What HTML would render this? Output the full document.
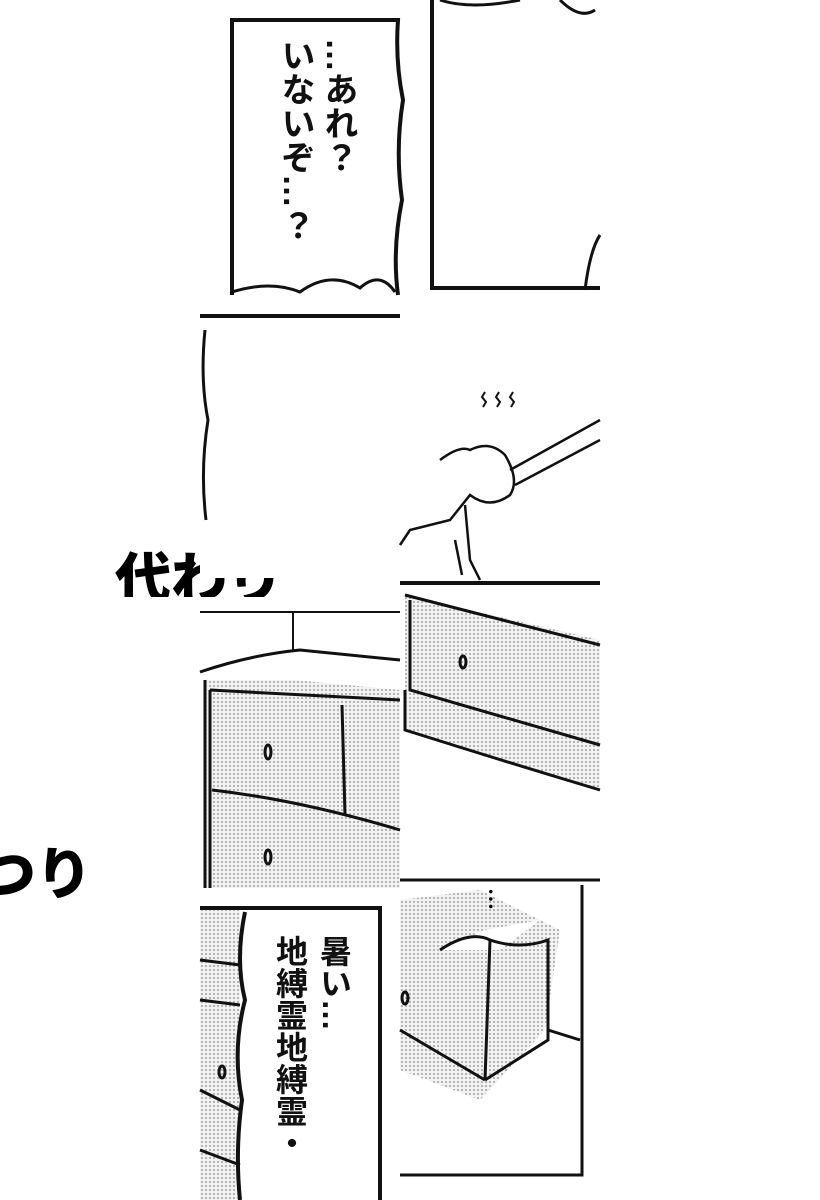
<!DOCTYPE html>
<html><head><meta charset="utf-8"><style>
html,body{margin:0;padding:0;background:#fff;width:820px;height:1200px;overflow:hidden}
svg{display:block}
.v{font-family:"Liberation Sans","Noto Sans CJK JP",sans-serif;writing-mode:vertical-rl;position:absolute;font-weight:bold;color:#111}
.b{position:absolute;font-family:"Liberation Sans","Noto Sans CJK JP",sans-serif;font-weight:900;color:#000}
</style></head><body>
<div style="position:relative;width:820px;height:1200px">
<div class="b" style="left:115px;top:535px;font-size:56px;width:165px;overflow:hidden;height:62px;white-space:nowrap">代わり</div>
<div class="b" style="left:-20px;top:830px;font-size:56px">つり</div>
<svg width="820" height="1200" viewBox="0 0 820 1200" style="position:absolute;left:0;top:0">
<defs><pattern id="d" width="4" height="4" patternUnits="userSpaceOnUse"><rect width="4" height="4" fill="#f2f2f2"/><circle cx="2" cy="2" r="0.9" fill="#888"/></pattern></defs>
<rect x="200" y="318" width="200" height="260" fill="#fff"/>
<g fill="none" stroke="#111" stroke-width="4">
<path d="M232 295 L232 20 L398 20 Q395 60 403 100 Q395 150 402 200 Q392 250 398 295"/>
<path d="M232 292 Q270 280 300 292 Q330 270 360 288 Q380 270 395 292" stroke-width="3"/>
<path d="M432 0 L432 288 L600 288"/>
<path d="M440 0 Q470 10 520 0 M560 0 Q580 20 595 10" stroke-width="3"/>
<path d="M585 290 Q590 250 600 235" stroke-width="3"/>
<path d="M200 316 L400 316"/>
<path d="M205 330 Q200 380 208 420 Q200 470 206 520" stroke-width="3"/>
<path d="M400 583 L600 583"/>
<path d="M510 470 L600 420 M515 485 L600 440" stroke-width="2.5"/>
<path d="M440 460 Q460 445 470 450 Q490 440 505 455 Q520 480 510 495 Q490 510 470 495 L450 520 L410 530 L400 545" stroke-width="2.5"/>
<path d="M465 505 L470 560 L480 580 M455 540 L462 575" stroke-width="2.5"/>
<path d="M485 392 l-3 5 l4 5 l-3 5 M499 392 l-3 5 l4 5 l-3 5 M513 392 l-3 5 l4 5 l-3 5" stroke-width="2"/>
</g>
<rect x="205" y="680" width="195" height="208" fill="url(#d)"/>
<polygon points="200,670 290,650 400,660 400,690 210,672" fill="#fff"/>
<g fill="none" stroke="#111" stroke-width="3">
<path d="M200 612 L400 612" stroke-width="2"/>
<path d="M293 612 L293 650" stroke-width="2"/>
<path d="M200 672 Q250 655 300 650 L400 660"/>
<path d="M205 680 L205 888 M210 690 L400 700 M210 690 L210 888"/>
<path d="M212 790 Q300 800 400 830 M342 705 L345 815"/>
<ellipse cx="268" cy="752" rx="3" ry="7"/><ellipse cx="268" cy="857" rx="3" ry="7"/>
</g>
<polygon points="405,595 600,640 600,790 405,730" fill="url(#d)"/>
<g fill="none" stroke="#111" stroke-width="3">
<path d="M400 583 L600 583"/>
<path d="M405 595 L600 645 M410 600 L410 690 L600 745 M405 690 L405 730 Q500 760 600 790"/>
<path d="M400 880 L600 880"/>
<ellipse cx="463" cy="662" rx="3" ry="6"/>
</g>
<rect x="200" y="910" width="40" height="290" fill="url(#d)"/>
<g fill="none" stroke="#111" stroke-width="3">
<path d="M200 960 L240 965 M200 1000 L240 1005 M200 1090 L240 1110 M200 1150 L240 1165"/>
<ellipse cx="222" cy="1072" rx="3" ry="6"/>
<path d="M200 908 L380 908 L380 1200 M245 912 Q235 960 245 1000 Q232 1050 242 1100 Q235 1150 240 1200" stroke-width="4"/>
</g>
<polygon points="400,900 480,890 560,930 545,1030 480,1100 400,1070" fill="url(#d)"/>
<polygon points="440,950 485,930 540,920 500,950" fill="#fff"/>
<g fill="none" stroke="#111" stroke-width="3">
<path d="M400 880 L600 880 M400 1175 L582 1175 L582 885"/>
<path d="M440 950 Q470 930 490 940 L485 1080 M490 940 Q520 950 548 940 L548 1040 L485 1080 M400 1030 L485 1080"/>
<path d="M548 1030 L580 1040"/>
<ellipse cx="405" cy="998" rx="3" ry="6"/>
</g>
</svg>
<div class="v" style="left:318px;top:38px;font-size:34px;line-height:40px">…あれ？</div>
<div class="v" style="left:275px;top:38px;font-size:34px;line-height:40px">いないぞ…？</div>
<div class="v" style="left:314px;top:935px;font-size:32px;line-height:40px">暑い…</div>
<div class="v" style="left:270px;top:935px;font-size:32px;line-height:40px">地縛霊地縛霊・</div>
<div style="position:absolute;left:483px;top:888px;font-size:22px;font-weight:bold;writing-mode:vertical-rl">…</div>
</div>
</body></html>
